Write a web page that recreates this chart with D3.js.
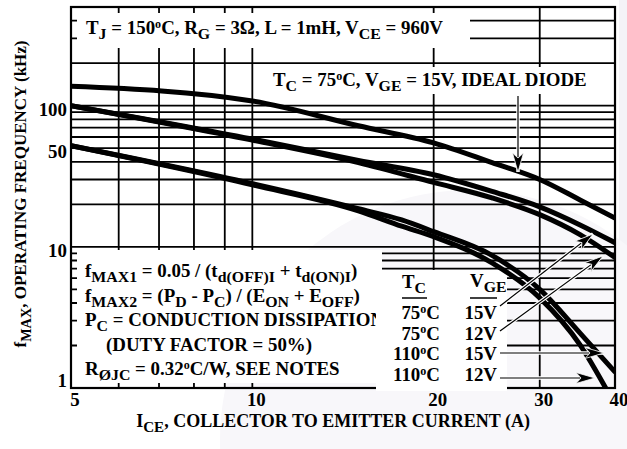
<!DOCTYPE html>
<html>
<head>
<meta charset="utf-8">
<script src="https://cdn.jsdelivr.net/npm/d3@7"></script>
<style>
html,body{margin:0;padding:0;background:#fff;}
svg{display:block;}
text{font-family:"Liberation Serif","Times New Roman",serif;font-weight:bold;fill:#000;}
</style>
</head>
<body>
<svg id="chart" width="627" height="449"></svg>
<script>
// ---------- data ----------
const xTickLabels = [5, 10, 20, 30, 40];
const yTickLabels = [1, 10, 50, 100];
const xGridValues = [6, 7, 8, 9, 10, 20, 30];
const yGridValues = [2, 3, 4, 5, 6, 7, 8, 9, 10, 20, 30, 40, 50, 60, 70, 80, 90, 100, 200, 300, 400];

const currentA = [5, 10, 15, 20, 25, 30, 35, 40];
const f75_15_ideal = [137, 108, 72, 54.5, 39.5, 30, 21.5, 16];
const f75_15 = [100, 58, 41, 32.4, 24.7, 19.2, 14.3, 10.7];
const f75_12 = [100, 57, 39.5, 28.6, 22.2, 16.9, 12.2, 8.4];
const currentB = [5, 10, 15, 17.7, 20, 25, 30, 35, 40];
const f110_15 = [52, 28, 18.6, 15.5, 12.8, 8.7, 5.0, 2.45, 1.3];
const currentC = [5, 10, 15, 17.7, 20, 25, 30, 35, 38.6];
const f110_12 = [52, 27.5, 18, 14, 11.8, 7.7, 4.35, 2.02, 1.0];

const legendTc = ["75^{o}C", "75^{o}C", "110^{o}C", "110^{o}C"];
const legendVge = ["15V", "12V", "15V", "12V"];
const formulaLines = [
  "f_{MAX1} = 0.05 / (t_{d(OFF)I} + t_{d(ON)I})",
  "f_{MAX2} = (P_{D} - P_{C}) / (E_{ON} + E_{OFF})",
  "P_{C} = CONDUCTION DISSIPATION",
  "(DUTY FACTOR = 50%)",
  "R_{ØJC} = 0.32^{o}C/W, SEE NOTES"
];
const titleText = "T_{J} = 150^{o}C, R_{G} = 3Ω, L = 1mH, V_{CE} = 960V";
const idealText = "T_{C} = 75^{o}C, V_{GE} = 15V, IDEAL DIODE";

// ---------- layout ----------
const W = 627, H = 449;
const m = {left: 71, right: 12, top: 7, bottom: 61};
const x = d3.scaleLog().domain([5, 40]).range([m.left, W - m.right]);
const y = d3.scaleLog().domain([1, 500]).range([H - m.bottom, m.top]);
const FS = 18, SX = 1.05;

const svg = d3.select("#chart");

// faint watermark
svg.append("rect").attr("x", 619).attr("y", 0).attr("width", 8).attr("height", H).attr("fill", "#f4f3f7");
svg.append("circle").attr("cx", 470).attr("cy", 440).attr("r", 250).attr("fill", "#f8f7fa");

// rich text helper: _{sub} ^{sup}
function rich(sel, str, fs) {
  const re = /(_|\^)\{([^}]*)\}/g;
  let last = 0, mt, shift = 0;
  const parts = [];
  while ((mt = re.exec(str)) !== null) {
    if (mt.index > last) parts.push({t: str.slice(last, mt.index), k: ""});
    parts.push({t: mt[2], k: mt[1]});
    last = re.lastIndex;
  }
  if (last < str.length) parts.push({t: str.slice(last), k: ""});
  parts.forEach(p => {
    let target = 0, size = fs;
    if (p.k === "_") { target = fs * 0.3; size = fs * 0.84; }
    if (p.k === "^") { target = -fs * 0.36; size = fs * 0.64; }
    sel.append("tspan").attr("dy", target - shift).attr("font-size", size).text(p.t);
    shift = target;
  });
  return sel;
}
// text placed at (px,py), horizontally stretched
function label(parent, px, py, str, anchor, sx) {
  const t = parent.append("text")
    .attr("transform", `translate(${px},${py}) scale(${sx || SX},1)`)
    .attr("font-size", FS)
    .attr("text-anchor", anchor || "start");
  return rich(t, String(str), FS);
}

// ---------- grid ----------
const grid = svg.append("g").attr("stroke", "#000").attr("stroke-width", 1.8);
grid.selectAll("line.v").data(xGridValues).join("line")
  .attr("x1", d => x(d)).attr("x2", d => x(d)).attr("y1", y(500)).attr("y2", y(1));
grid.selectAll("line.h").data(yGridValues).join("line")
  .attr("y1", d => y(d)).attr("y2", d => y(d)).attr("x1", x(5)).attr("x2", x(40));

// white annotation boxes
const boxes = svg.append("g").attr("fill", "#fff");
boxes.append("rect").attr("x", 77).attr("y", 13).attr("width", 393).attr("height", 35);
boxes.append("rect").attr("x", 265).attr("y", 67).attr("width", 327).attr("height", 27);
boxes.append("rect").attr("x", 77).attr("y", 250).attr("width", 305).attr("height", 133);

// frame
svg.append("rect").attr("x", x(5)).attr("y", y(500)).attr("width", x(40) - x(5)).attr("height", y(1) - y(500))
  .attr("fill", "none").attr("stroke", "#000").attr("stroke-width", 2.2);

// formula text
const ft = svg.append("g");
formulaLines.forEach((s, i) => label(ft, i === 3 ? 106 : 85, 277 + i * 24.5, s));

// legend box (covers end of formula line and bottom border)
svg.append("rect").attr("x", 376).attr("y", 270).attr("width", 131).attr("height", 121).attr("fill", "#fff");

// ---------- curves ----------
svg.append("clipPath").attr("id", "plotclip").append("rect")
  .attr("x", x(5)).attr("y", y(500)).attr("width", x(40) - x(5)).attr("height", y(1) - y(500));
const line = d3.line().x(d => x(d[0])).y(d => y(d[1])).curve(d3.curveMonotoneX);
const series = [
  d3.zip(currentA, f75_15_ideal),
  d3.zip(currentA, f75_15),
  d3.zip(currentA, f75_12),
  d3.zip(currentB, f110_15),
  d3.zip(currentC, f110_12)
];
svg.append("g").attr("clip-path", "url(#plotclip)")
  .selectAll("path").data(series).join("path")
  .attr("d", line).attr("fill", "none").attr("stroke", "#000")
  .attr("stroke-width", 5).attr("stroke-linecap", "round");

// ---------- axis labels ----------
const xl = svg.append("g");
xTickLabels.forEach(d => label(xl, x(d) + 4, 406, d, "middle"));
const yl = svg.append("g");
yTickLabels.forEach(d => label(yl, 67, d === 1 ? y(d) - 1 : y(d) + 10, d, "end"));

label(svg, 333, 427, "I_{CE}, COLLECTOR TO EMITTER CURRENT (A)", "middle", 1.0);
rich(svg.append("text").attr("font-size", 17).attr("text-anchor", "middle")
  .attr("transform", "translate(26,194) rotate(-90)"), "f_{MAX}, OPERATING FREQUENCY (kHz)", 17);

// ---------- annotations ----------
label(svg, 86, 34, titleText);
label(svg, 273, 86, idealText);

// legend header
const lg = svg.append("g");
label(lg, 402, 288, "T_{C}");
label(lg, 470, 287, "V_{GE}");
lg.append("line").attr("x1", 402).attr("x2", 427).attr("y1", 298).attr("y2", 298).attr("stroke", "#000").attr("stroke-width", 1.5);
lg.append("line").attr("x1", 470).attr("x2", 497).attr("y1", 298).attr("y2", 298).attr("stroke", "#000").attr("stroke-width", 1.5);
legendTc.forEach((s, i) => label(lg, 440, 319 + i * 20.7, s, "end"));
legendVge.forEach((s, i) => label(lg, 497, 319 + i * 20.7, s, "end"));

// arrows
const arrows = [
  [[518, 96], [518, 172]],
  [[500, 306], [593, 234]],
  [[500, 331], [603, 256]],
  [[500, 353], [604, 353]],
  [[500, 378], [595, 378]]
];
const ag = svg.append("g");
arrows.forEach(([a, b]) => {
  const ang = Math.atan2(b[1] - a[1], b[0] - a[0]);
  ag.append("line").attr("x1", a[0]).attr("y1", a[1]).attr("x2", b[0]).attr("y2", b[1])
    .attr("stroke", "#fff").attr("stroke-width", 3.5);
  ag.append("line").attr("x1", a[0]).attr("y1", a[1]).attr("x2", b[0] - 10 * Math.cos(ang)).attr("y2", b[1] - 10 * Math.sin(ang))
    .attr("stroke", "#000").attr("stroke-width", 1.2);
  ag.append("path").attr("d", "M0,0 L-19,-5.5 L-14,0 L-19,5.5 Z")
    .attr("transform", `translate(${b[0]},${b[1]}) rotate(${ang * 180 / Math.PI})`)
    .attr("fill", "#000").attr("stroke", "#fff").attr("stroke-width", 0.8);
});
</script>
</body>
</html>
